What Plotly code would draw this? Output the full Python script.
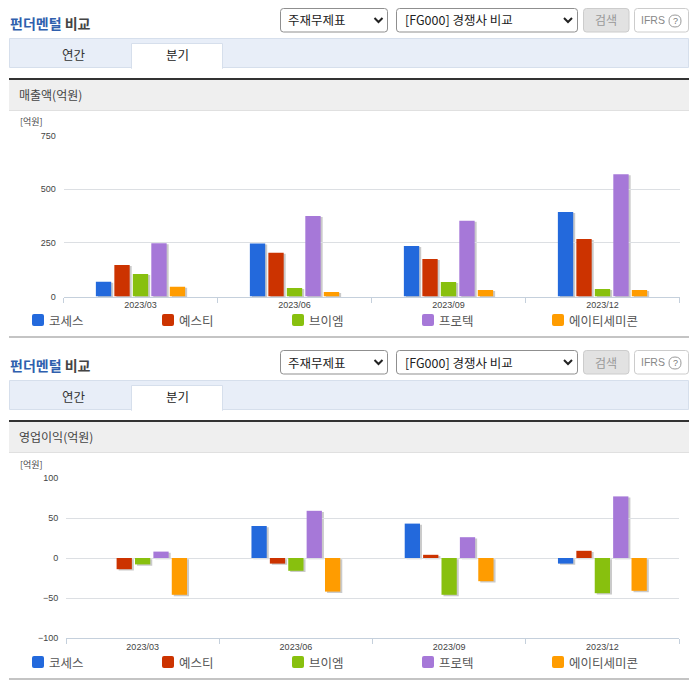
import plotly.graph_objects as go

W = 696
H = 684

# ------------------------------------------------
# Data
# ------------------------------------------------
quarters = ["2023/03", "2023/06", "2023/09", "2023/12"]
companies = ["코세스", "예스티", "브이엠", "프로텍", "에이티세미콘"]
colors = ["#2369dc", "#cc3300", "#88c00e", "#a678d8", "#ff9c00"]

sales_coses = [69, 247, 235, 394]
sales_yesti = [147, 204, 175, 268]
sales_vm = [105, 40, 68, 35]
sales_protec = [248, 375, 353, 570]
sales_ats = [46, 21, 30, 30]

profit_coses = [0, 40, 43, -7]
profit_yesti = [-14, -7, 4, 9]
profit_vm = [-8, -16, -46, -44]
profit_protec = [8, 59, 26, 77]
profit_ats = [-46, -42, -29, -41]

sales = [sales_coses, sales_yesti, sales_vm, sales_protec, sales_ats]
profit = [profit_coses, profit_yesti, profit_vm, profit_protec, profit_ats]

sales_ticks = [0, 250, 500, 750]
profit_ticks = [-100, -50, 0, 50, 100]

KR = "Noto Sans CJK KR"
NUM = "Liberation Sans"

shapes = []
notes = []


def fx(x):
    return x / W


def fy(y):
    return 1 - y / H


def box(x0, y0, x1, y1, fill, line=None, r=0):
    """Rectangle given in page pixels, optionally rounded."""
    if r:
        p = (
            f"M {fx(x0 + r)} {fy(y0)} L {fx(x1 - r)} {fy(y0)} Q {fx(x1)} {fy(y0)} {fx(x1)} {fy(y0 + r)} "
            f"L {fx(x1)} {fy(y1 - r)} Q {fx(x1)} {fy(y1)} {fx(x1 - r)} {fy(y1)} "
            f"L {fx(x0 + r)} {fy(y1)} Q {fx(x0)} {fy(y1)} {fx(x0)} {fy(y1 - r)} "
            f"L {fx(x0)} {fy(y0 + r)} Q {fx(x0)} {fy(y0)} {fx(x0 + r)} {fy(y0)} Z"
        )
        shape = dict(type="path", path=p)
    else:
        shape = dict(type="rect", x0=fx(x0), x1=fx(x1), y0=fy(y0), y1=fy(y1))
    shape.update(xref="paper", yref="paper", layer="below", fillcolor=fill,
                 line=dict(color=line or fill, width=1 if line else 0))
    shapes.append(shape)


def text(x, y, s, size=12, color="#333333", anchor="left", font=KR):
    # annotations sit about a pixel to the right of the requested spot
    if anchor == "left":
        x -= 1
    notes.append(dict(x=fx(x), y=fy(y), xref="paper", yref="paper", text=s, showarrow=False,
                      xanchor=anchor, yanchor="middle", align=anchor, borderpad=0,
                      font=dict(family=font, size=size, color=color)))


def chevron(x, y):
    p = f"M {fx(x - 4)} {fy(y - 2)} L {fx(x)} {fy(y + 2)} L {fx(x + 4)} {fy(y - 2)}"
    shapes.append(dict(type="path", path=p, xref="paper", yref="paper", layer="below",
                       line=dict(color="#222222", width=2)))


def panel(dy, heading):
    """Title row, tabs and section header, the same on both panels."""
    text(10, 23 + dy, '<b><span style="color:#2f5fae">펀더멘털</span> 비교</b>', 14, "#444444")

    box(280.5, 8.5 + dy, 387.5, 32 + dy, "#ffffff", "#8f8f8f", 3)
    text(288, 20 + dy, "주재무제표", 12.5, "#222222")
    chevron(378.5, 20 + dy)
    box(396.5, 8.5 + dy, 577.5, 32 + dy, "#ffffff", "#8f8f8f", 3)
    text(405, 20 + dy, "[FG000] 경쟁사 비교", 12.5, "#222222")
    chevron(568, 20 + dy)
    box(583.5, 8.5 + dy, 629, 32 + dy, "#e2e2e2", "#cccccc", 3)
    text(606, 20 + dy, "검색", 12, "#999999", "center")
    box(634.5, 8.5 + dy, 688.5, 32 + dy, "#ffffff", "#cccccc", 3)
    text(641, 20 + dy, "IFRS", 10.5, "#888888", font=NUM)
    box(669, 15 + dy, 681, 27 + dy, "#ffffff", "#999999", 6)
    text(675, 21 + dy, "?", 9, "#777777", "center", NUM)

    box(9.5, 38.5 + dy, 688.5, 67.5 + dy, "#e8eef8", "#d6dfec")
    box(131.5, 43.5 + dy, 222.5, 68.5 + dy, "#ffffff", "#d6dfec")
    box(132, 66 + dy, 222, 69 + dy, "#ffffff")
    text(74, 54.5 + dy, "연간", 12.5, "#333333", "center")
    text(177, 54.5 + dy, "분기", 12.5, "#222222", "center")

    box(9, 80 + dy, 689, 110 + dy, "#efefef")
    box(9, 110 + dy, 689, 111 + dy, "#e0e0e0")
    box(9, 78 + dy, 689, 80 + dy, "#333333")
    text(19, 95 + dy, heading, 12, "#444444")
    text(20, 122 + dy, "[억원]", 9, "#444444")

    # legend row
    for i, name in enumerate(companies):
        x = 32 + 130 * i
        box(x, 314 + dy, x + 12, 326 + dy, colors[i], r=2)
        text(x + 17, 320 + dy, name, 12.5, "#555555")

    box(9, 336 + dy, 689, 338 + dy, "#c4c4c4")


panel(0, "매출액(억원)")
panel(342, "영업이익(억원)")

# ------------------------------------------------
# Bars
# ------------------------------------------------
fig = go.Figure()

# shadow axes come first so they are drawn under the real bars
panels = [
    (sales, "x", "y", "x2", "y2"),
    (profit, "x3", "y3", "x4", "y4"),
]
for values, sx, sy, mx, my in panels:
    for i, name in enumerate(companies):
        fig.add_trace(go.Bar(x=quarters, y=values[i], xaxis=sx, yaxis=sy, name=name,
                             marker=dict(color="#cacaca", line_width=0), showlegend=False,
                             hoverinfo="skip"))
    for i, name in enumerate(companies):
        fig.add_trace(go.Bar(x=quarters, y=values[i], xaxis=mx, yaxis=my, name=name,
                             marker=dict(color=colors[i], line_width=0), showlegend=False))


def x_axis(x0, x1, anchor, main):
    ax = dict(domain=[fx(x0), fx(x1)], anchor=anchor, type="category", categoryorder="array",
              categoryarray=quarters, fixedrange=True)
    if main:
        ax.update(showline=True, linecolor="#c5d0dc", linewidth=1, ticks="outside", ticklen=5,
                  tickcolor="#c5d0dc", tickson="boundaries", showgrid=False,
                  tickfont=dict(family=NUM, size=9, color="#444444"))
    else:
        ax.update(visible=False)
    return ax


def y_axis(y0, y1, anchor, rng, ticks, main):
    ax = dict(domain=[fy(y1), fy(y0)], anchor=anchor, range=rng, fixedrange=True, zeroline=False)
    if main:
        ax.update(tickvals=ticks, showgrid=True, gridcolor="#dcdfe3", gridwidth=1, showline=False,
                  ticks="outside", ticklen=5, tickcolor="rgba(0,0,0,0)",
                  tickfont=dict(family=NUM, size=9, color="#444444"))
    else:
        ax.update(visible=False)
    return ax


fig.update_layout(
    width=W,
    height=H,
    margin=dict(l=0, r=0, t=0, b=0, autoexpand=False),
    paper_bgcolor="#ffffff",
    plot_bgcolor="rgba(0,0,0,0)",
    barmode="group",
    bargap=0.4,
    bargroupgap=0.17,
    showlegend=False,
    shapes=shapes,
    annotations=notes,
    xaxis=x_axis(65.5, 681.5, "y", False),
    yaxis=y_axis(135.5, 297.5, "x", [0, 755], sales_ticks, False),
    xaxis2=x_axis(63.5, 679.5, "y2", True),
    yaxis2=y_axis(135.5, 296.5, "x2", [0, 750], sales_ticks, True),
    xaxis3=x_axis(68, 681, "y3", False),
    yaxis3=y_axis(479, 639.5, "x3", [-100, 100], profit_ticks, False),
    xaxis4=x_axis(66, 679, "y4", True),
    yaxis4=y_axis(478, 638, "x4", [-100, 100], profit_ticks, True),
)

fig.write_html("out.html", config={"displayModeBar": False}, post_script="document.body.style.margin='0';")
